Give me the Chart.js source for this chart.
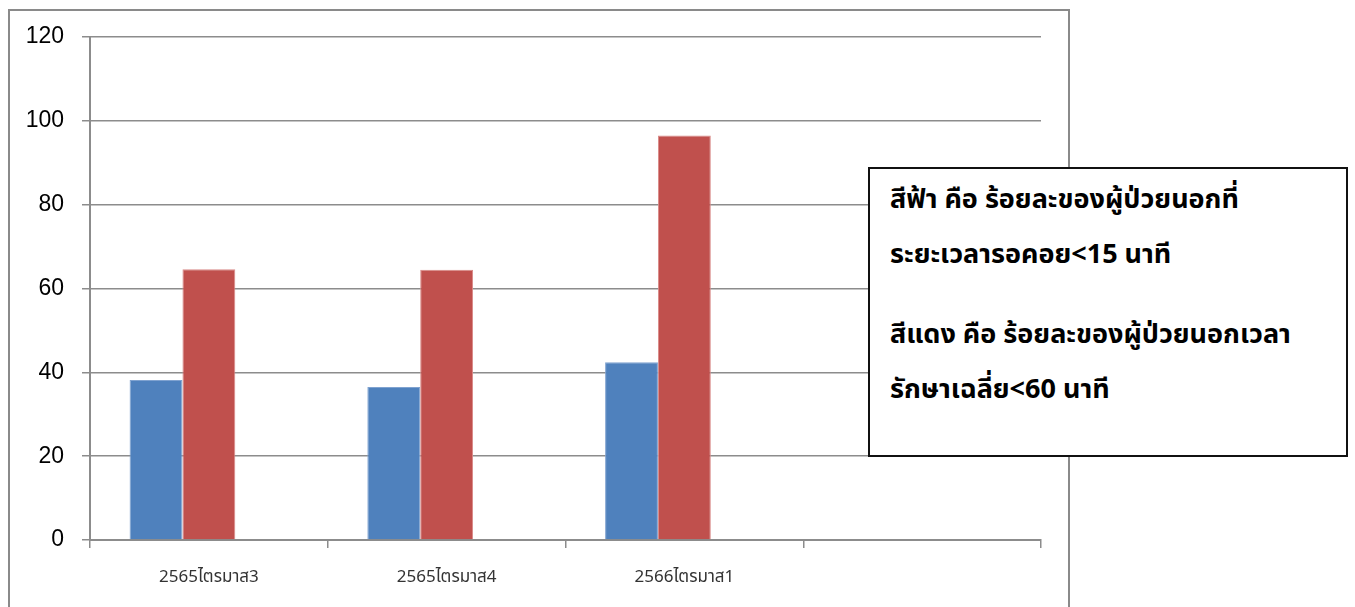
<!DOCTYPE html>
<html>
<head>
<meta charset="utf-8">
<script src="https://cdn.jsdelivr.net/npm/chart.js@4"></script>
<style>
  html, body { margin: 0; padding: 0; background: #fff; overflow: hidden; }
  #frame {
    position: absolute; left: 8px; top: 9px; width: 1058px; height: 640px;
    border: 2px solid #8a8a8a; border-bottom: none;
  }
  #wrap { position: absolute; left: 0; top: 0; width: 1058px; height: 596px; }
  #note {
    position: absolute; left: 868px; top: 167px; width: 476px; height: 286px;
    border: 2px solid #111; background: #fff;
    font-family: Tahoma, "Noto Sans Thai", "Noto Sans", sans-serif;
    font-weight: bold; font-size: 27px; line-height: 36px; color: #000;
  }
  #note p { margin: 0; position: absolute; left: 20px; white-space: nowrap; }
</style>
</head>
<body>
<div id="frame"><div id="wrap"><canvas id="chart"></canvas></div></div>
<div id="note">
  <p style="top:13px">สีฟ้า คือ ร้อยละของผู้ป่วยนอกที่</p>
  <p style="top:68px">ระยะเวลารอคอย&lt;15 นาที</p>
  <p style="top:148px">สีแดง คือ ร้อยละของผู้ป่วยนอกเวลา</p>
  <p style="top:203px">รักษาเฉลี่ย&lt;60 นาที</p>
</div>
<script>
// ข้อมูลรายไตรมาส
const categories = ['2565ไตรมาส3', '2565ไตรมาส4', '2566ไตรมาส1', ''];
const waitUnder15 = [38.2, 36.5, 42.4, null];
const treatUnder60 = [64.6, 64.5, 96.5, null];
const series3 = [0, 0, 0, null];
const yTicks = [0, 20, 40, 60, 80, 100, 120];

const gridColor = '#8c8c8c';

new Chart(document.getElementById('chart'), {
  type: 'bar',
  data: {
    labels: categories,
    datasets: [
      { label: 'ฟ้า', data: waitUnder15, backgroundColor: '#4F81BD', borderColor: '#7FA2D0', borderWidth: 1 },
      { label: 'แดง', data: treatUnder60, backgroundColor: '#C0504D', borderColor: '#D98A88', borderWidth: 1 },
      { label: '3', data: series3, backgroundColor: '#9BBB59', borderWidth: 0 }
    ]
  },
  options: {
    responsive: true,
    maintainAspectRatio: false,
    animation: false,
    layout: { padding: { top: 26, right: 27, bottom: 0, left: 0 } },
    categoryPercentage: 0.667,
    barPercentage: 1,
    plugins: { legend: { display: false }, tooltip: { enabled: false } },
    scales: {
      x: {
        grid: { offset: true, drawOnChartArea: false, drawTicks: true, tickLength: 8, color: gridColor, lineWidth: 1.5 },
        border: { color: gridColor, width: 2 },
        ticks: {
          color: '#333', padding: 20, maxRotation: 0,
          font: { family: 'Tahoma, "Noto Sans Thai", "Noto Sans", sans-serif', size: 17 }
        },
        afterFit: s => { s.height = 67; s.paddingLeft = 0; s.paddingRight = 0; }
      },
      y: {
        min: 0, max: 120,
        afterBuildTicks: s => { s.ticks = yTicks.map(v => ({ value: v })); },
        grid: { color: gridColor, lineWidth: 1.5, tickLength: 8 },
        border: { color: gridColor, width: 2 },
        ticks: {
          color: '#000', padding: 18,
          font: { family: '"Liberation Sans", Arial, sans-serif', size: 23 }
        },
        afterFit: s => { s.width = 80; s.paddingTop = 0; s.paddingBottom = 0; }
      }
    }
  }
});
</script>
</body>
</html>
